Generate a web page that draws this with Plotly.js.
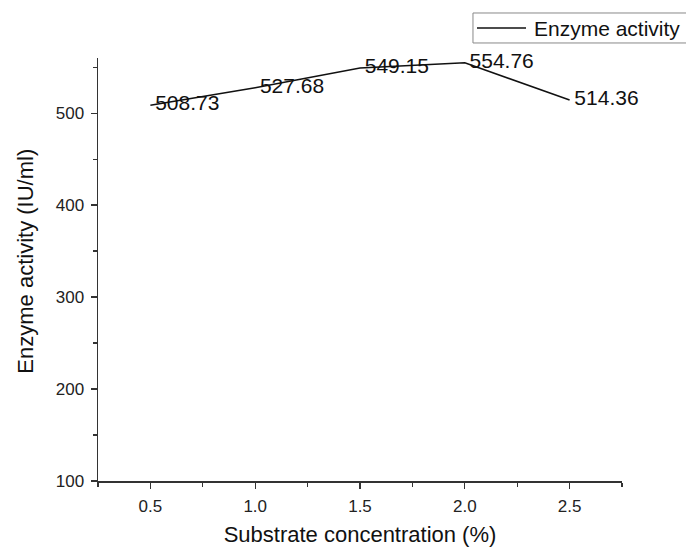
<!DOCTYPE html>
<html>
<head>
<meta charset="utf-8">
<script src="https://cdn.plot.ly/plotly-3.0.1.min.js"></script>
<style>html,body{margin:0;padding:0;background:#fff;}#chart{width:686px;height:547px;}</style>
</head>
<body>
<div id="chart"></div>
<script>
// Data
const concentration = [0.5, 1.0, 1.5, 2.0, 2.5];
const enzymeActivity = [508.73, 527.68, 549.15, 554.76, 514.36];
const pointLabels = ["508.73", "527.68", "549.15", "554.76", "514.36"];
const seriesName = "Enzyme activity";
const xTitle = "Substrate concentration (%)";
const yTitle = "Enzyme activity (IU/ml)";

const FONT = "Arial, 'Liberation Sans', sans-serif";
const LINE_COLOR = "#111";

const trace = {
  x: concentration,
  y: enzymeActivity,
  text: pointLabels,
  mode: "lines+markers+text",
  type: "scatter",
  name: seriesName,
  line: {color: LINE_COLOR, width: 1.5},
  marker: {size: 6, opacity: 0, color: LINE_COLOR},
  textposition: "middle right",
  textfont: {family: FONT, size: 21, color: "#111"},
  cliponaxis: false
};

// legend box drawn in paper coordinates (plot area: 98..622 px, 58..481 px)
const legendBox = {x0: 0.7156, x1: 1.13, y0: 1.0355, y1: 1.1064};

const layout = {
  width: 686,
  height: 547,
  margin: {l: 98, r: 64, t: 58, b: 66},
  paper_bgcolor: "#fff",
  plot_bgcolor: "#fff",
  font: {family: FONT, color: "#222"},
  showlegend: false,
  xaxis: {
    range: [0.25, 2.75],
    tick0: 0.5, dtick: 0.5,
    tickformat: ".1f",
    showgrid: false, zeroline: false,
    showline: true, linecolor: "#333", linewidth: 1.5,
    ticks: "outside", ticklen: 6, tickwidth: 1.3, tickcolor: "#333",
    ticklabelstandoff: 3,
    minor: {dtick: 0.25, ticks: "outside", ticklen: 4, tickwidth: 1.3, tickcolor: "#333", showgrid: false},
    tickfont: {family: FONT, size: 17, color: "#222"},
    title: {text: xTitle, font: {family: FONT, size: 22, color: "#111"}, standoff: 12}
  },
  yaxis: {
    range: [100, 560],
    tick0: 100, dtick: 100,
    showgrid: false, zeroline: false,
    showline: true, linecolor: "#333", linewidth: 1.5,
    ticks: "outside", ticklen: 6, tickwidth: 1.3, tickcolor: "#333",
    ticklabelstandoff: 3,
    minor: {dtick: 50, ticks: "outside", ticklen: 4, tickwidth: 1.3, tickcolor: "#333", showgrid: false},
    tickfont: {family: FONT, size: 17, color: "#222"}
  },
  shapes: [
    {type: "rect", xref: "paper", yref: "paper",
     x0: legendBox.x0, x1: legendBox.x1, y0: legendBox.y0, y1: legendBox.y1,
     line: {color: "#888", width: 1}, fillcolor: "rgba(0,0,0,0)"},
    {type: "line", xref: "paper", yref: "paper",
     x0: 0.7233, x1: 0.8168, y0: 1.0709, y1: 1.0709,
     line: {color: LINE_COLOR, width: 1.5}}
  ],
  annotations: [
    {
      text: yTitle,
      xref: "paper", yref: "paper",
      x: -0.14, y: 0.52,
      xanchor: "center", yanchor: "middle",
      textangle: -90,
      showarrow: false,
      font: {family: FONT, size: 22, color: "#111"}
    },
    {
      text: seriesName,
      xref: "paper", yref: "paper",
      x: 0.828, y: 1.0709,
      xanchor: "left", yanchor: "middle",
      showarrow: false,
      font: {family: FONT, size: 21, color: "#111"}
    }
  ]
};

Plotly.newPlot("chart", [trace], layout, {displayModeBar: false, staticPlot: true});
</script>
</body>
</html>
